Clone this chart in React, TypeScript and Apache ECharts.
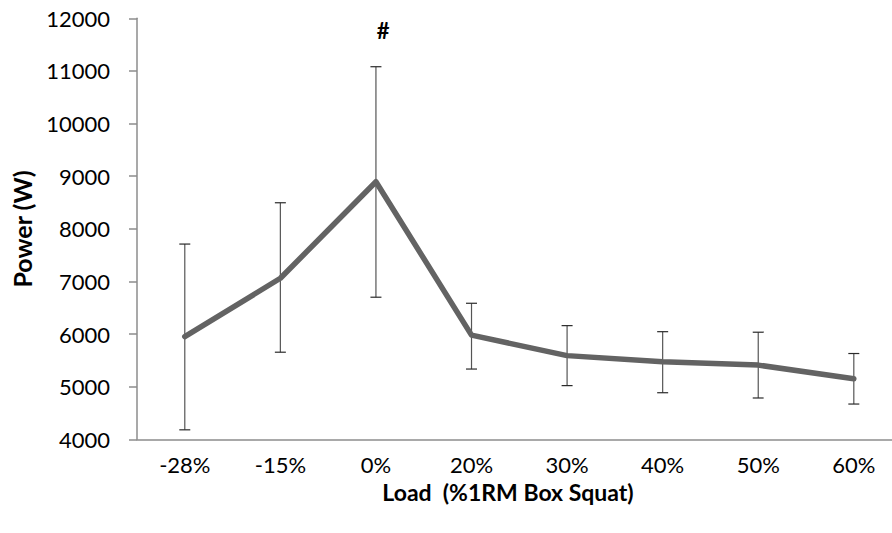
import React, { useEffect, useRef } from "react";
import * as echarts from "echarts";

const categories = ["-28%", "-15%", "0%", "20%", "30%", "40%", "50%", "60%"];
const powerMean = [5950, 7060, 8895, 5980, 5590, 5475, 5410, 5150];
const errHigh = [7710, 8495, 11080, 6585, 6160, 6045, 6035, 5630];
const errLow = [4180, 5655, 6700, 5335, 5020, 4885, 4785, 4670];
const yTicks = { min: 4000, max: 12000, interval: 1000 };
const FONT = "Lato";

export default function App() {
  const ref = useRef<HTMLDivElement>(null);
  useEffect(() => {
    if (!ref.current) return;
    const chart = echarts.init(ref.current, undefined, { renderer: "svg" });
    chart.setOption({
      animation: false,
      backgroundColor: "#ffffff",
      grid: { left: 137, right: 0.4, top: 18.3, bottom: 93.7 },
      xAxis: {
        type: "category",
        data: categories,
        boundaryGap: true,
        axisLine: { lineStyle: { color: "#8c8c8c", width: 1.5 } },
        axisTick: { show: false },
        axisLabel: { color: "#000", fontSize: 22, fontFamily: FONT, margin: 14 },
        splitLine: { show: false },
      },
      yAxis: {
        type: "value",
        min: yTicks.min,
        max: yTicks.max,
        interval: yTicks.interval,
        axisLine: { show: true, lineStyle: { color: "#8c8c8c", width: 1.5 } },
        axisTick: { show: true, inside: false, length: 8, lineStyle: { color: "#8c8c8c", width: 1.5 } },
        axisLabel: {
          color: "#000",
          fontSize: 22,
          fontFamily: FONT,
          margin: 27,
          formatter: (v: number) => String(v),
        },
        splitLine: { show: false },
      },
      series: [
        {
          type: "custom",
          z: 1,
          data: categories.map((_, i) => [i, errHigh[i], errLow[i]]),
          encode: { x: 0, y: [1, 2] },
          renderItem: (params: any, api: any) => {
            const x = api.value(0);
            const pHi = api.coord([x, api.value(1)]);
            const pLo = api.coord([x, api.value(2)]);
            const w = 5.5;
            const st = { stroke: "#2a2a2a", lineWidth: 1.2 };
            return {
              type: "group",
              children: [
                { type: "line", shape: { x1: pHi[0], y1: pHi[1], x2: pLo[0], y2: pLo[1] }, style: { ...st, stroke: "#555" } },
                { type: "line", shape: { x1: pHi[0] - w, y1: pHi[1], x2: pHi[0] + w, y2: pHi[1] }, style: st },
                { type: "line", shape: { x1: pLo[0] - w, y1: pLo[1], x2: pLo[0] + w, y2: pLo[1] }, style: st },
              ],
            };
          },
        },
        {
          type: "line",
          z: 2,
          data: powerMean,
          symbol: "none",
          lineStyle: { color: "#636363", width: 5.5, cap: "round", join: "round" },
        },
      ],
      graphic: [
        {
          type: "text",
          x: 22,
          y: 229,
          rotation: Math.PI / 2,
          style: {
            text: "Power (W)",
            fontSize: 25,
            fontWeight: "bold",
            fontFamily: FONT,
            fill: "#000",
            align: "center",
            verticalAlign: "middle",
          },
        },
        {
          type: "text",
          x: 508,
          y: 492,
          style: {
            text: "Load  (%1RM Box Squat)",
            fontSize: 23,
            fontWeight: "bold",
            fontFamily: FONT,
            fill: "#000",
            align: "center",
            verticalAlign: "middle",
          },
        },
        {
          type: "text",
          x: 383,
          y: 30,
          style: {
            text: "#",
            fontSize: 22,
            fontWeight: "bold",
            fontFamily: FONT,
            fill: "#000",
            align: "center",
            verticalAlign: "middle",
          },
        },
      ],
    });
    return () => chart.dispose();
  }, []);
  return (
    <div
      ref={ref}
      style={{ position: "fixed", left: 0, top: 0, width: 902, height: 533, background: "#fff" }}
    />
  );
}
